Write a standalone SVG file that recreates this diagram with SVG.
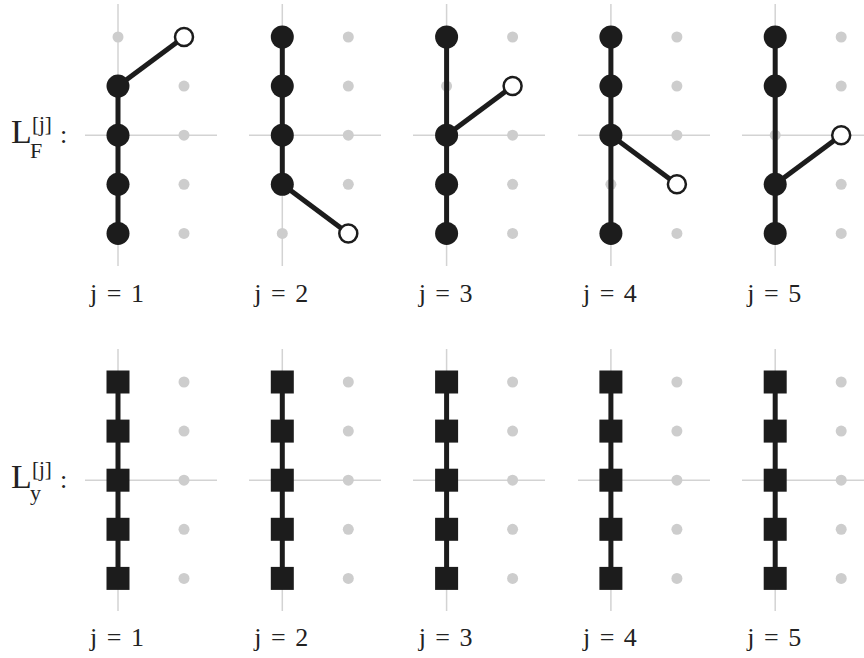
<svg xmlns="http://www.w3.org/2000/svg" width="864" height="658" viewBox="0 0 864 658">
<style>
.grid{stroke:#d3d3d3;stroke-width:1.5;fill:none}
.dot{fill:#cdcdcd}
.edge{stroke:#1c1c1c;stroke-width:5;fill:none}
.node{fill:#1c1c1c}
.open{fill:#ffffff;stroke:#1c1c1c;stroke-width:2.5}
.sq{fill:#1c1c1c}
.lbl{font-family:"Liberation Serif",serif;fill:#222;font-size:26px;text-anchor:middle;word-spacing:3px}
.big{font-family:"Liberation Serif",serif;fill:#222}
</style>
<rect width="864" height="658" fill="#ffffff"/>

<!-- row labels -->
<g id="label-LF">
<text class="big" x="11" y="143" font-size="34">L</text>
<text class="big" x="32" y="131" font-size="21">[j]</text>
<text class="big" x="30" y="158" font-size="22">F</text>
<text class="big" x="60" y="143" font-size="26">:</text>
</g>
<g id="label-Ly">
<text class="big" x="11" y="488" font-size="34">L</text>
<text class="big" x="32" y="476" font-size="21">[j]</text>
<text class="big" x="30" y="500" font-size="22">y</text>
<text class="big" x="60" y="488" font-size="26">:</text>
</g>

<!-- grid lines -->
<g id="grid">
<line class="grid" x1="118" y1="4" x2="118" y2="266"/><line class="grid" x1="85" y1="135.2" x2="217" y2="135.2"/>
<line class="grid" x1="282.3" y1="4" x2="282.3" y2="266"/><line class="grid" x1="249" y1="135.2" x2="381" y2="135.2"/>
<line class="grid" x1="446.6" y1="4" x2="446.6" y2="266"/><line class="grid" x1="413" y1="135.2" x2="545" y2="135.2"/>
<line class="grid" x1="610.9" y1="4" x2="610.9" y2="266"/><line class="grid" x1="578" y1="135.2" x2="710" y2="135.2"/>
<line class="grid" x1="775.2" y1="4" x2="775.2" y2="266"/><line class="grid" x1="742" y1="135.2" x2="864" y2="135.2"/>
<line class="grid" x1="118" y1="349" x2="118" y2="611"/><line class="grid" x1="85" y1="480.2" x2="217" y2="480.2"/>
<line class="grid" x1="282.3" y1="349" x2="282.3" y2="611"/><line class="grid" x1="249" y1="480.2" x2="381" y2="480.2"/>
<line class="grid" x1="446.6" y1="349" x2="446.6" y2="611"/><line class="grid" x1="413" y1="480.2" x2="545" y2="480.2"/>
<line class="grid" x1="610.9" y1="349" x2="610.9" y2="611"/><line class="grid" x1="578" y1="480.2" x2="710" y2="480.2"/>
<line class="grid" x1="775.2" y1="349" x2="775.2" y2="611"/><line class="grid" x1="742" y1="480.2" x2="864" y2="480.2"/>
</g>

<!-- background gray dots -->
<g id="dots">
<circle class="dot" cx="118" cy="37" r="5.5"/>
<circle class="dot" cx="184" cy="86.1" r="5.5"/><circle class="dot" cx="184" cy="135.2" r="5.5"/><circle class="dot" cx="184" cy="184.3" r="5.5"/><circle class="dot" cx="184" cy="233.4" r="5.5"/>
<circle class="dot" cx="282.3" cy="233.4" r="5.5"/>
<circle class="dot" cx="348.3" cy="37" r="5.5"/><circle class="dot" cx="348.3" cy="86.1" r="5.5"/><circle class="dot" cx="348.3" cy="135.2" r="5.5"/><circle class="dot" cx="348.3" cy="184.3" r="5.5"/>
<circle class="dot" cx="446.6" cy="86.1" r="5.5"/>
<circle class="dot" cx="512.6" cy="37" r="5.5"/><circle class="dot" cx="512.6" cy="135.2" r="5.5"/><circle class="dot" cx="512.6" cy="184.3" r="5.5"/><circle class="dot" cx="512.6" cy="233.4" r="5.5"/>
<circle class="dot" cx="610.9" cy="184.3" r="5.5"/>
<circle class="dot" cx="676.9" cy="37" r="5.5"/><circle class="dot" cx="676.9" cy="86.1" r="5.5"/><circle class="dot" cx="676.9" cy="135.2" r="5.5"/><circle class="dot" cx="676.9" cy="233.4" r="5.5"/>
<circle class="dot" cx="775.2" cy="135.2" r="5.5"/>
<circle class="dot" cx="841.2" cy="37" r="5.5"/><circle class="dot" cx="841.2" cy="86.1" r="5.5"/><circle class="dot" cx="841.2" cy="184.3" r="5.5"/><circle class="dot" cx="841.2" cy="233.4" r="5.5"/>
<circle class="dot" cx="184" cy="382" r="5.5"/><circle class="dot" cx="184" cy="431.1" r="5.5"/><circle class="dot" cx="184" cy="480.2" r="5.5"/><circle class="dot" cx="184" cy="529.3" r="5.5"/><circle class="dot" cx="184" cy="578.4" r="5.5"/>
<circle class="dot" cx="348.3" cy="382" r="5.5"/><circle class="dot" cx="348.3" cy="431.1" r="5.5"/><circle class="dot" cx="348.3" cy="480.2" r="5.5"/><circle class="dot" cx="348.3" cy="529.3" r="5.5"/><circle class="dot" cx="348.3" cy="578.4" r="5.5"/>
<circle class="dot" cx="512.6" cy="382" r="5.5"/><circle class="dot" cx="512.6" cy="431.1" r="5.5"/><circle class="dot" cx="512.6" cy="480.2" r="5.5"/><circle class="dot" cx="512.6" cy="529.3" r="5.5"/><circle class="dot" cx="512.6" cy="578.4" r="5.5"/>
<circle class="dot" cx="676.9" cy="382" r="5.5"/><circle class="dot" cx="676.9" cy="431.1" r="5.5"/><circle class="dot" cx="676.9" cy="480.2" r="5.5"/><circle class="dot" cx="676.9" cy="529.3" r="5.5"/><circle class="dot" cx="676.9" cy="578.4" r="5.5"/>
<circle class="dot" cx="841.2" cy="382" r="5.5"/><circle class="dot" cx="841.2" cy="431.1" r="5.5"/><circle class="dot" cx="841.2" cy="480.2" r="5.5"/><circle class="dot" cx="841.2" cy="529.3" r="5.5"/><circle class="dot" cx="841.2" cy="578.4" r="5.5"/>
</g>

<!-- connectors -->
<g id="connectors">
<line class="edge" x1="118" y1="86.1" x2="118" y2="233.4"/><line class="edge" x1="118" y1="86.1" x2="184" y2="37"/>
<line class="edge" x1="282.3" y1="37" x2="282.3" y2="184.3"/><line class="edge" x1="282.3" y1="184.3" x2="348.3" y2="233.4"/>
<line class="edge" x1="446.6" y1="37" x2="446.6" y2="233.4"/><line class="edge" x1="446.6" y1="135.2" x2="512.6" y2="86.1"/>
<line class="edge" x1="610.9" y1="37" x2="610.9" y2="233.4"/><line class="edge" x1="610.9" y1="135.2" x2="676.9" y2="184.3"/>
<line class="edge" x1="775.2" y1="37" x2="775.2" y2="233.4"/><line class="edge" x1="775.2" y1="184.3" x2="841.2" y2="135.2"/>
<line class="edge" x1="118" y1="382" x2="118" y2="578.4"/>
<line class="edge" x1="282.3" y1="382" x2="282.3" y2="578.4"/>
<line class="edge" x1="446.6" y1="382" x2="446.6" y2="578.4"/>
<line class="edge" x1="610.9" y1="382" x2="610.9" y2="578.4"/>
<line class="edge" x1="775.2" y1="382" x2="775.2" y2="578.4"/>
</g>

<!-- top row nodes -->
<g id="F1">
<circle class="node" cx="118" cy="86.1" r="11.5"/><circle class="node" cx="118" cy="135.2" r="11.5"/><circle class="node" cx="118" cy="184.3" r="11.5"/><circle class="node" cx="118" cy="233.4" r="11.5"/>
<circle class="open" cx="184" cy="37" r="9"/>
<text class="lbl" x="117" y="302">j = 1</text>
</g>
<g id="F2">
<circle class="node" cx="282.3" cy="37" r="11.5"/><circle class="node" cx="282.3" cy="86.1" r="11.5"/><circle class="node" cx="282.3" cy="135.2" r="11.5"/><circle class="node" cx="282.3" cy="184.3" r="11.5"/>
<circle class="open" cx="348.3" cy="233.4" r="9"/>
<text class="lbl" x="281.3" y="302">j = 2</text>
</g>
<g id="F3">
<circle class="node" cx="446.6" cy="37" r="11.5"/><circle class="node" cx="446.6" cy="135.2" r="11.5"/><circle class="node" cx="446.6" cy="184.3" r="11.5"/><circle class="node" cx="446.6" cy="233.4" r="11.5"/>
<circle class="open" cx="512.6" cy="86.1" r="9"/>
<text class="lbl" x="445.6" y="302">j = 3</text>
</g>
<g id="F4">
<circle class="node" cx="610.9" cy="37" r="11.5"/><circle class="node" cx="610.9" cy="86.1" r="11.5"/><circle class="node" cx="610.9" cy="135.2" r="11.5"/><circle class="node" cx="610.9" cy="233.4" r="11.5"/>
<circle class="open" cx="676.9" cy="184.3" r="9"/>
<text class="lbl" x="609.9" y="302">j = 4</text>
</g>
<g id="F5">
<circle class="node" cx="775.2" cy="37" r="11.5"/><circle class="node" cx="775.2" cy="86.1" r="11.5"/><circle class="node" cx="775.2" cy="184.3" r="11.5"/><circle class="node" cx="775.2" cy="233.4" r="11.5"/>
<circle class="open" cx="841.2" cy="135.2" r="9"/>
<text class="lbl" x="774.2" y="302">j = 5</text>
</g>

<!-- bottom row nodes -->
<g id="Y1">
<rect class="sq" x="106.5" y="370.5" width="23" height="23"/><rect class="sq" x="106.5" y="419.6" width="23" height="23"/><rect class="sq" x="106.5" y="468.7" width="23" height="23"/><rect class="sq" x="106.5" y="517.8" width="23" height="23"/><rect class="sq" x="106.5" y="566.9" width="23" height="23"/>
<text class="lbl" x="117" y="646">j = 1</text>
</g>
<g id="Y2">
<rect class="sq" x="270.8" y="370.5" width="23" height="23"/><rect class="sq" x="270.8" y="419.6" width="23" height="23"/><rect class="sq" x="270.8" y="468.7" width="23" height="23"/><rect class="sq" x="270.8" y="517.8" width="23" height="23"/><rect class="sq" x="270.8" y="566.9" width="23" height="23"/>
<text class="lbl" x="281.3" y="646">j = 2</text>
</g>
<g id="Y3">
<rect class="sq" x="435.1" y="370.5" width="23" height="23"/><rect class="sq" x="435.1" y="419.6" width="23" height="23"/><rect class="sq" x="435.1" y="468.7" width="23" height="23"/><rect class="sq" x="435.1" y="517.8" width="23" height="23"/><rect class="sq" x="435.1" y="566.9" width="23" height="23"/>
<text class="lbl" x="445.6" y="646">j = 3</text>
</g>
<g id="Y4">
<rect class="sq" x="599.4" y="370.5" width="23" height="23"/><rect class="sq" x="599.4" y="419.6" width="23" height="23"/><rect class="sq" x="599.4" y="468.7" width="23" height="23"/><rect class="sq" x="599.4" y="517.8" width="23" height="23"/><rect class="sq" x="599.4" y="566.9" width="23" height="23"/>
<text class="lbl" x="609.9" y="646">j = 4</text>
</g>
<g id="Y5">
<rect class="sq" x="763.7" y="370.5" width="23" height="23"/><rect class="sq" x="763.7" y="419.6" width="23" height="23"/><rect class="sq" x="763.7" y="468.7" width="23" height="23"/><rect class="sq" x="763.7" y="517.8" width="23" height="23"/><rect class="sq" x="763.7" y="566.9" width="23" height="23"/>
<text class="lbl" x="774.2" y="646">j = 5</text>
</g>
</svg>
